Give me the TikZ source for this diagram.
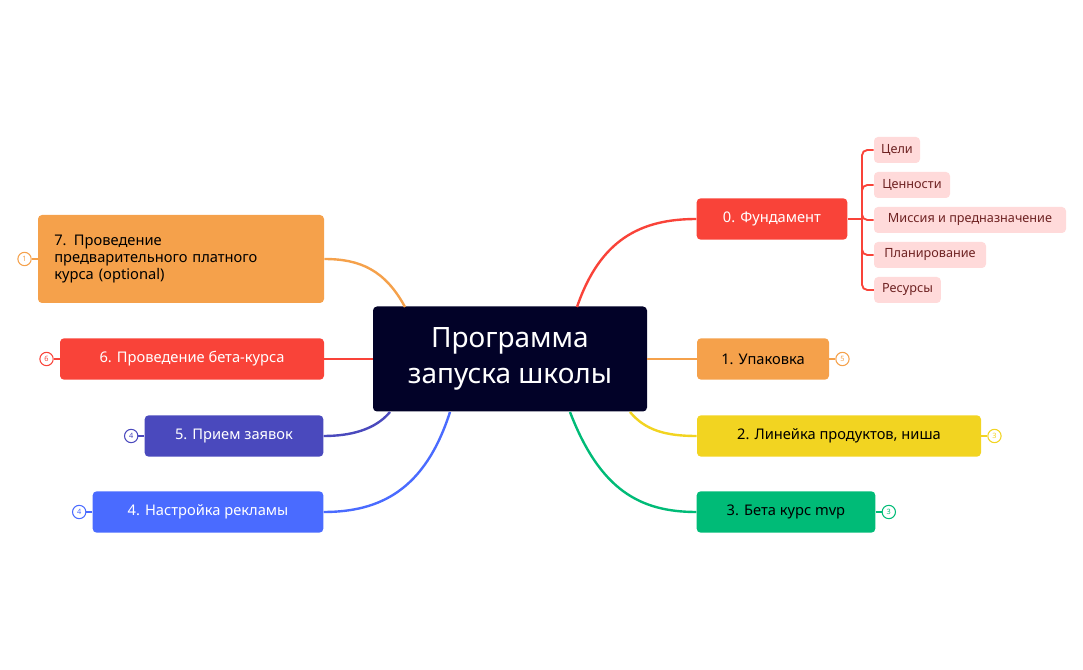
\documentclass[tikz,border=0pt]{standalone}
\usepackage{fontspec}
\setmainfont{Noto Sans}
\usetikzlibrary{positioning,calc}
\definecolor{cRed}{HTML}{F94339}
\definecolor{cOrange}{HTML}{F5A14B}
\definecolor{cYellow}{HTML}{F2D421}
\definecolor{cGreen}{HTML}{00BB77}
\definecolor{cIndigo}{HTML}{4A49BD}
\definecolor{cBlue}{HTML}{4A6BFF}
\definecolor{cNavy}{HTML}{020228}
\definecolor{cPink}{HTML}{FFDADA}
\definecolor{cWine}{HTML}{6E2222}

\begin{document}
\begin{tikzpicture}[x=0.75pt,y=-0.75pt,
    topic/.style={rectangle, rounded corners=3pt, inner sep=0pt,
      minimum height=31pt, font=\fontsize{11}{13}\selectfont},
    sub/.style={rectangle, rounded corners=3pt, fill=cPink, text=cWine,
      inner sep=0pt, minimum height=19.5pt, font=\fontsize{9.5}{11}\selectfont},
    badge/.style={circle, draw=#1, fill=white, thick, inner sep=0pt,
      minimum size=10pt, text=#1, font=\fontsize{5.5}{6}\selectfont},
    link/.style={line width=1.8pt, #1},
  ]
    \useasboundingbox (0,0) rectangle (1083,670);
    % Central topic
    \node[rectangle, rounded corners=3pt, fill=cNavy, text=white, align=center,
      minimum width=205.5pt, minimum height=78.75pt,
      font=\fontsize{21}{27}\selectfont] (root) at (510,359) {Программа\\запуска школы};

    % Right branches
    \node[topic, fill=cRed, text=white, font=\fontsize{11}{13}\selectfont\bfseries,
      minimum width=113pt] (found) at (772,219) {0. Фундамент};
    \node[topic, fill=cOrange, minimum width=99pt] (pack) at (763,359) {1. Упаковка};
    \node[topic, fill=cYellow, minimum width=213pt] (line) at (839,436) {2. Линейка продуктов, ниша};
    \node[topic, fill=cGreen, minimum width=134pt] (beta) at (786,512) {3. Бета курс mvp};

    % Left branches
    \node[topic, fill=cOrange, minimum width=214.5pt, minimum height=66pt,
      align=left, text width=190pt] (pre) at (181,259)
      {7. Проведение\\предварительного платного\\курса (optional)};
    \node[topic, fill=cRed, text=white, font=\fontsize{11}{13}\selectfont\bfseries,
      minimum width=198pt] (run) at (192,359) {6. Проведение бета-курса};
    \node[topic, fill=cIndigo, text=white, font=\fontsize{11}{13}\selectfont\bfseries,
      minimum width=134pt] (apply) at (234,436) {5. Прием заявок};
    \node[topic, fill=cBlue, text=white, font=\fontsize{11}{13}\selectfont\bfseries,
      minimum width=173pt] (ads) at (208,512) {4. Настройка рекламы};

    % Subtopics of 0
    \node[sub, minimum width=34.5pt] (goals) at (897,150) {Цели};
    \node[sub, minimum width=57pt] (values) at (912,185) {Ценности};
    \node[sub, minimum width=144pt] (mission) at (970,220) {Миссия и предназначение};
    \node[sub, minimum width=84pt] (plan) at (930,255) {Планирование};
    \node[sub, minimum width=50pt] (res) at (907.5,290) {Ресурсы};

    % Connectors
    \draw[link=cRed] (577,307) .. controls (600,240) and (640,219) .. (found.west);
    \draw[link=cOrange] (root.east |- pack) -- (pack.west);
    \draw[link=cYellow] (630,412) .. controls (645,430) and (665,436) .. (line.west);
    \draw[link=cGreen] (570,412) .. controls (600,490) and (640,512) .. (beta.west);
    \draw[link=cOrange] (405,307) .. controls (385,270) and (360,259) .. (pre.east);
    \draw[link=cRed] (root.west |- run) -- (run.east);
    \draw[link=cIndigo] (390,412) .. controls (375,430) and (350,436) .. (apply.east);
    \draw[link=cBlue] (450,412) .. controls (425,490) and (380,512) .. (ads.east);

    \coordinate (fork) at (862,219);
    \draw[cRed, line width=1.4pt] (found.east) -- (fork);
    \foreach \s in {goals,values,mission,plan,res}
      \draw[cRed, line width=1.4pt, rounded corners=4pt] (fork) |- (\s.west);

    % Badges
    \foreach \t/\c/\n/\side in {pack/cOrange/5/east, line/cYellow/3/east, beta/cGreen/3/east}{
      \node[badge=\c, right=4.5pt of \t.\side] (b\t) {\n};
      \draw[\c, line width=1.2pt] (\t.\side) -- (b\t);
    }
    \foreach \t/\c/\n/\side in {pre/cOrange/1/west, run/cRed/6/west, apply/cIndigo/4/west, ads/cBlue/4/west}{
      \node[badge=\c, left=4.5pt of \t.\side] (b\t) {\n};
      \draw[\c, line width=1.2pt] (\t.\side) -- (b\t);
    }
\end{tikzpicture}
\end{document}
